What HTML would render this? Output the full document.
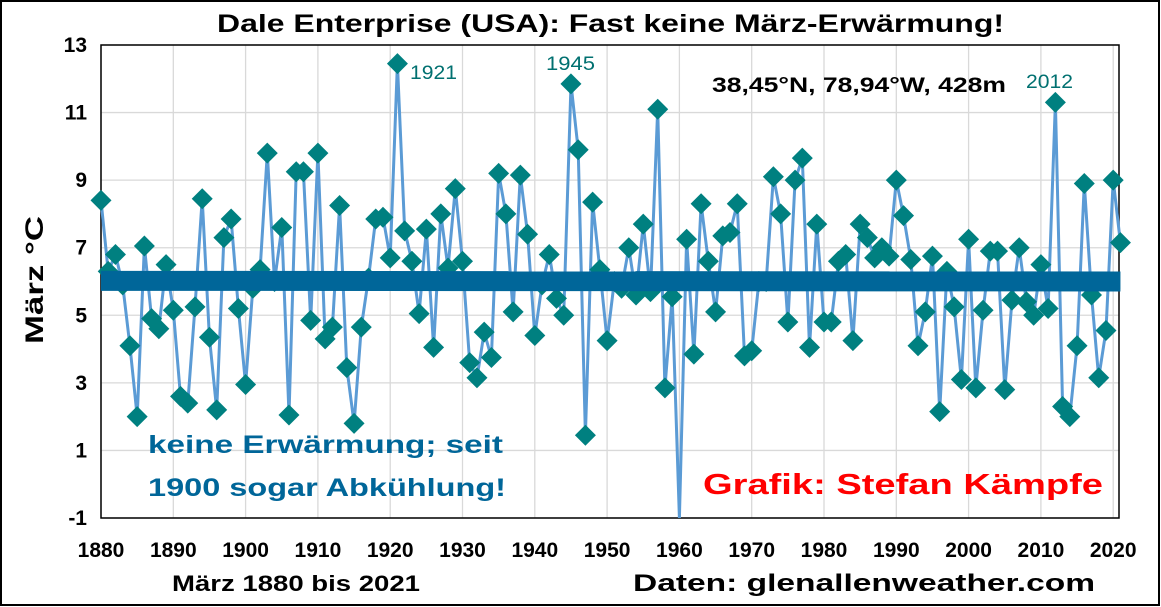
<!DOCTYPE html>
<html><head><meta charset="utf-8"><style>
body{margin:0;background:#fff;}
svg{display:block;font-family:"Liberation Sans",Arial,sans-serif;}
</style></head><body>
<svg id="chart" width="1161" height="607">
<rect x="1" y="1" width="1158" height="604" fill="#fff" stroke="#000" stroke-width="2"/>
<text x="217" y="32" font-size="25" font-weight="bold" textLength="787" lengthAdjust="spacingAndGlyphs">Dale Enterprise (USA): Fast keine März-Erwärmung!</text>
<g id="grid"></g>
<g id="axes"></g>
<g id="marks"></g>
<text transform="translate(43,280) rotate(-90)" text-anchor="middle" font-size="25" font-weight="bold" textLength="128" lengthAdjust="spacingAndGlyphs">März °C</text>
<text x="172" y="591" font-size="22" font-weight="bold" textLength="248" lengthAdjust="spacingAndGlyphs">März 1880 bis 2021</text>
<text x="633" y="591" font-size="24" font-weight="bold" textLength="462" lengthAdjust="spacingAndGlyphs">Daten: glenallenweather.com</text>
<text x="148" y="453" font-size="25" font-weight="bold" fill="#006699" textLength="355" lengthAdjust="spacingAndGlyphs">keine Erwärmung; seit</text>
<text x="148" y="496" font-size="25" font-weight="bold" fill="#006699" textLength="358" lengthAdjust="spacingAndGlyphs">1900 sogar Abkühlung!</text>
<text x="703" y="494" font-size="29" font-weight="bold" fill="#ff0000" textLength="400" lengthAdjust="spacingAndGlyphs">Grafik: Stefan Kämpfe</text>
<text x="712" y="92" font-size="21" font-weight="bold" textLength="294" lengthAdjust="spacingAndGlyphs">38,45°N, 78,94°W, 428m</text>
<text x="410" y="79" font-size="19" fill="#007070" textLength="47" lengthAdjust="spacingAndGlyphs">1921</text>
<text x="546" y="70" font-size="19" fill="#007070" textLength="49" lengthAdjust="spacingAndGlyphs">1945</text>
<text x="1026" y="88" font-size="19" fill="#007070" textLength="47" lengthAdjust="spacingAndGlyphs">2012</text>
</svg>
<script>
const startYear = 1880;
const temps = [8.4,6.3,6.8,5.9,4.1,2.0,7.05,4.9,4.6,6.5,
5.15,2.6,2.4,5.25,8.45,4.35,2.2,7.3,7.85,5.2,
2.95,5.8,6.35,9.8,6.0,7.6,2.05,9.25,9.25,4.85,
9.8,4.3,4.65,8.25,3.45,1.8,4.65,6.1,7.85,7.9,
6.7,12.45,7.5,6.6,5.05,7.55,4.05,8.0,6.4,8.75,
6.6,3.6,3.15,4.5,3.75,9.2,8.0,5.1,9.15,7.4,
4.4,5.9,6.8,5.5,5.0,11.85,9.9,1.45,8.35,6.35,
4.25,6.0,5.8,7.0,5.6,7.7,5.7,11.1,2.85,5.55,
-1.2,7.25,3.85,8.3,6.6,5.1,7.35,7.45,8.3,3.8,
3.95,6.0,6.0,9.1,8.0,4.8,9.0,9.65,4.05,7.7,
4.8,4.8,6.6,6.8,4.25,7.7,7.3,6.7,7.0,6.75,
9.0,7.95,6.65,4.1,5.1,6.75,2.15,6.3,5.25,3.1,
7.25,2.85,5.15,6.9,6.9,2.8,5.45,7.0,5.4,5.0,
6.5,5.2,11.3,2.3,2.0,4.1,8.9,5.6,3.15,4.55,
9.0,7.15];
const trendValues = [6.02, 6.0];
const yTicks = [-1,1,3,5,7,9,11,13];
const xTicks = [1880,1890,1900,1910,1920,1930,1940,1950,1960,1970,1980,1990,2000,2010,2020];

const L=101,R=1119,T=45,B=518;
const x = yr => 101 + (yr-1880)*7.23;
const y = v => T + (13-v)*(B-T)/14;
const NS="http://www.w3.org/2000/svg";
function mk(tag,parent,attrs){const e=document.createElementNS(NS,tag);for(const k in attrs)e.setAttribute(k,attrs[k]);parent.appendChild(e);return e;}
const grid=document.getElementById('grid'),axes=document.getElementById('axes'),marks=document.getElementById('marks');

yTicks.forEach(t=>{
  const g=mk('line',grid,{x1:L,x2:R,y1:y(t),y2:y(t),stroke:'#d9d9d9','stroke-width':1.3});
  
  
  const lb=mk('text',axes,{x:L-14,y:y(t)+7,'text-anchor':'end','font-size':21,'font-weight':'bold'});
  lb.textContent=t;
  
  
});
xTicks.forEach(t=>{
  const g=mk('line',grid,{x1:x(t),x2:x(t),y1:T,y2:B,stroke:'#d9d9d9','stroke-width':1.3});
  
  
  const lb=mk('text',axes,{x:x(t),y:557,'text-anchor':'middle','font-size':21,'font-weight':'bold'});
  lb.textContent=t;
  
  
});
const frame=mk('rect',axes,{x:L,y:T,width:R-L,height:B-T,fill:'none',stroke:'#000','stroke-width':1.5});



const endYear=startYear+temps.length-1;
const trend=mk('line',marks,{x1:x(startYear),x2:x(endYear),y1:y(trendValues[0]),y2:y(trendValues[1]),stroke:'#006699','stroke-width':20});



let pts=temps.map((v,i)=>x(startYear+i).toFixed(1)+','+Math.min(y(v),B).toFixed(1)).join(' ');
const line=mk('polyline',marks,{points:pts,fill:'none',stroke:'#5b9bd5','stroke-width':3});



temps.forEach((v,i)=>{
  if(y(v)>B) return;
  const cx=x(startYear+i),cy=y(v),s=10.5;
  const d=mk('polygon',marks,{points:`${cx},${cy-s} ${cx+s},${cy} ${cx},${cy+s} ${cx-s},${cy}`,fill:'#008080'});
  
  
});
marks.appendChild(trend);
</script>
</body></html>
